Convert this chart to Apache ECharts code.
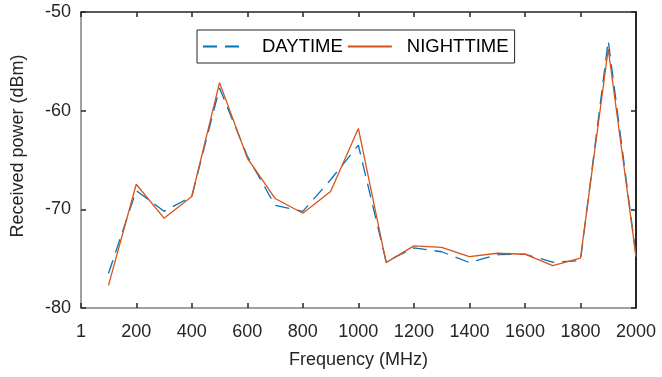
<!DOCTYPE html>
<html>
<head>
<meta charset="utf-8">
<script src="https://cdn.jsdelivr.net/npm/echarts@6/dist/echarts.min.js"></script>
<style>
html,body{margin:0;padding:0;background:#fff;}
#chart{width:662px;height:377px;}
</style>
</head>
<body>
<div id="chart"></div>
<script>
const frequencies = [100,200,300,400,500,600,700,800,900,1000,1100,1200,1300,1400,1500,1600,1700,1800,1900,2000];
const daytime = [-76.5,-68.1,-70.2,-68.7,-57.7,-64.6,-69.6,-70.2,-67.0,-63.5,-75.3,-73.9,-74.3,-75.4,-74.6,-74.55,-75.35,-75.2,-52.9,-74.7];
const nighttime = [-77.7,-67.46,-70.9,-68.7,-57.16,-64.8,-68.9,-70.4,-68.2,-61.8,-75.4,-73.7,-73.85,-74.8,-74.45,-74.55,-75.7,-74.95,-53.75,-74.8];
const xTicks = [1,200,400,600,800,1000,1200,1400,1600,1800,2000];
const yTicks = [-80,-70,-60,-50];

const font = 'Liberation Sans, Arial, sans-serif';
const txt = '#262626';
const chart = echarts.init(document.getElementById('chart'));
const pair = (xs, ys) => xs.map((x, i) => [x, ys[i]]);

chart.setOption({
  animation: false,
  backgroundColor: '#fff',
  grid: {left: 81, right: 26, top: 12, bottom: 69, containLabel: false},
  legend: {
    left: 197, top: 30,
    itemWidth: 44, itemHeight: 10, itemGap: 4,
    padding: [7, 6, 7, 5],
    borderColor: '#262626', borderWidth: 1,
    backgroundColor: '#fff',
    itemStyle: {opacity: 0},
    textStyle: {fontFamily: font, fontSize: 18.5, color: '#000', padding: [0, 4, 0, 10]},
    data: ['DAYTIME', 'NIGHTTIME']
  },
  xAxis: [{
    type: 'value', min: 1, max: 2000,
    name: 'Frequency (MHz)', nameLocation: 'middle', nameGap: 43,
    nameTextStyle: {fontFamily: font, fontSize: 18, color: txt},
    axisLine: {lineStyle: {color: '#808080', width: 1.5}},
    axisTick: {inside: true, length: 5, lineStyle: {color: '#262626', width: 1.5}, customValues: xTicks},
    axisLabel: {fontFamily: font, fontSize: 18, color: txt, margin: 15, customValues: xTicks, formatter: v => String(v)},
    splitLine: {show: false}
  }, {
    type: 'value', min: 1, max: 2000, position: 'top',
    axisLine: {show: true, lineStyle: {color: '#262626', width: 1.5}},
    axisTick: {show: true, inside: true, length: 5, lineStyle: {color: '#262626', width: 1.5}, customValues: xTicks},
    axisLabel: {show: false},
    splitLine: {show: false}
  }],
  yAxis: [{
    type: 'value', min: -80, max: -50, interval: 10,
    name: 'Received power (dBm)', nameLocation: 'middle', nameGap: 54,
    nameTextStyle: {fontFamily: font, fontSize: 18, color: txt, padding: [0, 0, 0, 28]},
    axisLine: {show: true, lineStyle: {color: '#808080', width: 1.5}},
    axisTick: {show: true, inside: true, length: 5, lineStyle: {color: '#262626', width: 1.5}, customValues: yTicks},
    axisLabel: {fontFamily: font, fontSize: 18, color: txt, margin: 10, customValues: yTicks, formatter: v => String(v)},
    splitLine: {show: false}
  }, {
    type: 'value', min: -80, max: -50, interval: 10, position: 'right',
    axisLine: {show: true, lineStyle: {color: '#262626', width: 2}},
    axisTick: {show: true, inside: true, length: 5, lineStyle: {color: '#262626', width: 1.5}, customValues: yTicks},
    axisLabel: {show: false},
    splitLine: {show: false}
  }],
  series: [{
    name: 'DAYTIME', type: 'line', symbol: 'none',
    data: pair(frequencies, daytime),
    lineStyle: {color: '#0072BD', width: 1.3, type: [14, 8]},
    itemStyle: {color: '#0072BD'}
  }, {
    name: 'NIGHTTIME', type: 'line', symbol: 'none',
    data: pair(frequencies, nighttime),
    lineStyle: {color: '#D95319', width: 1.3},
    itemStyle: {color: '#D95319'}
  }]
});
</script>
</body>
</html>
